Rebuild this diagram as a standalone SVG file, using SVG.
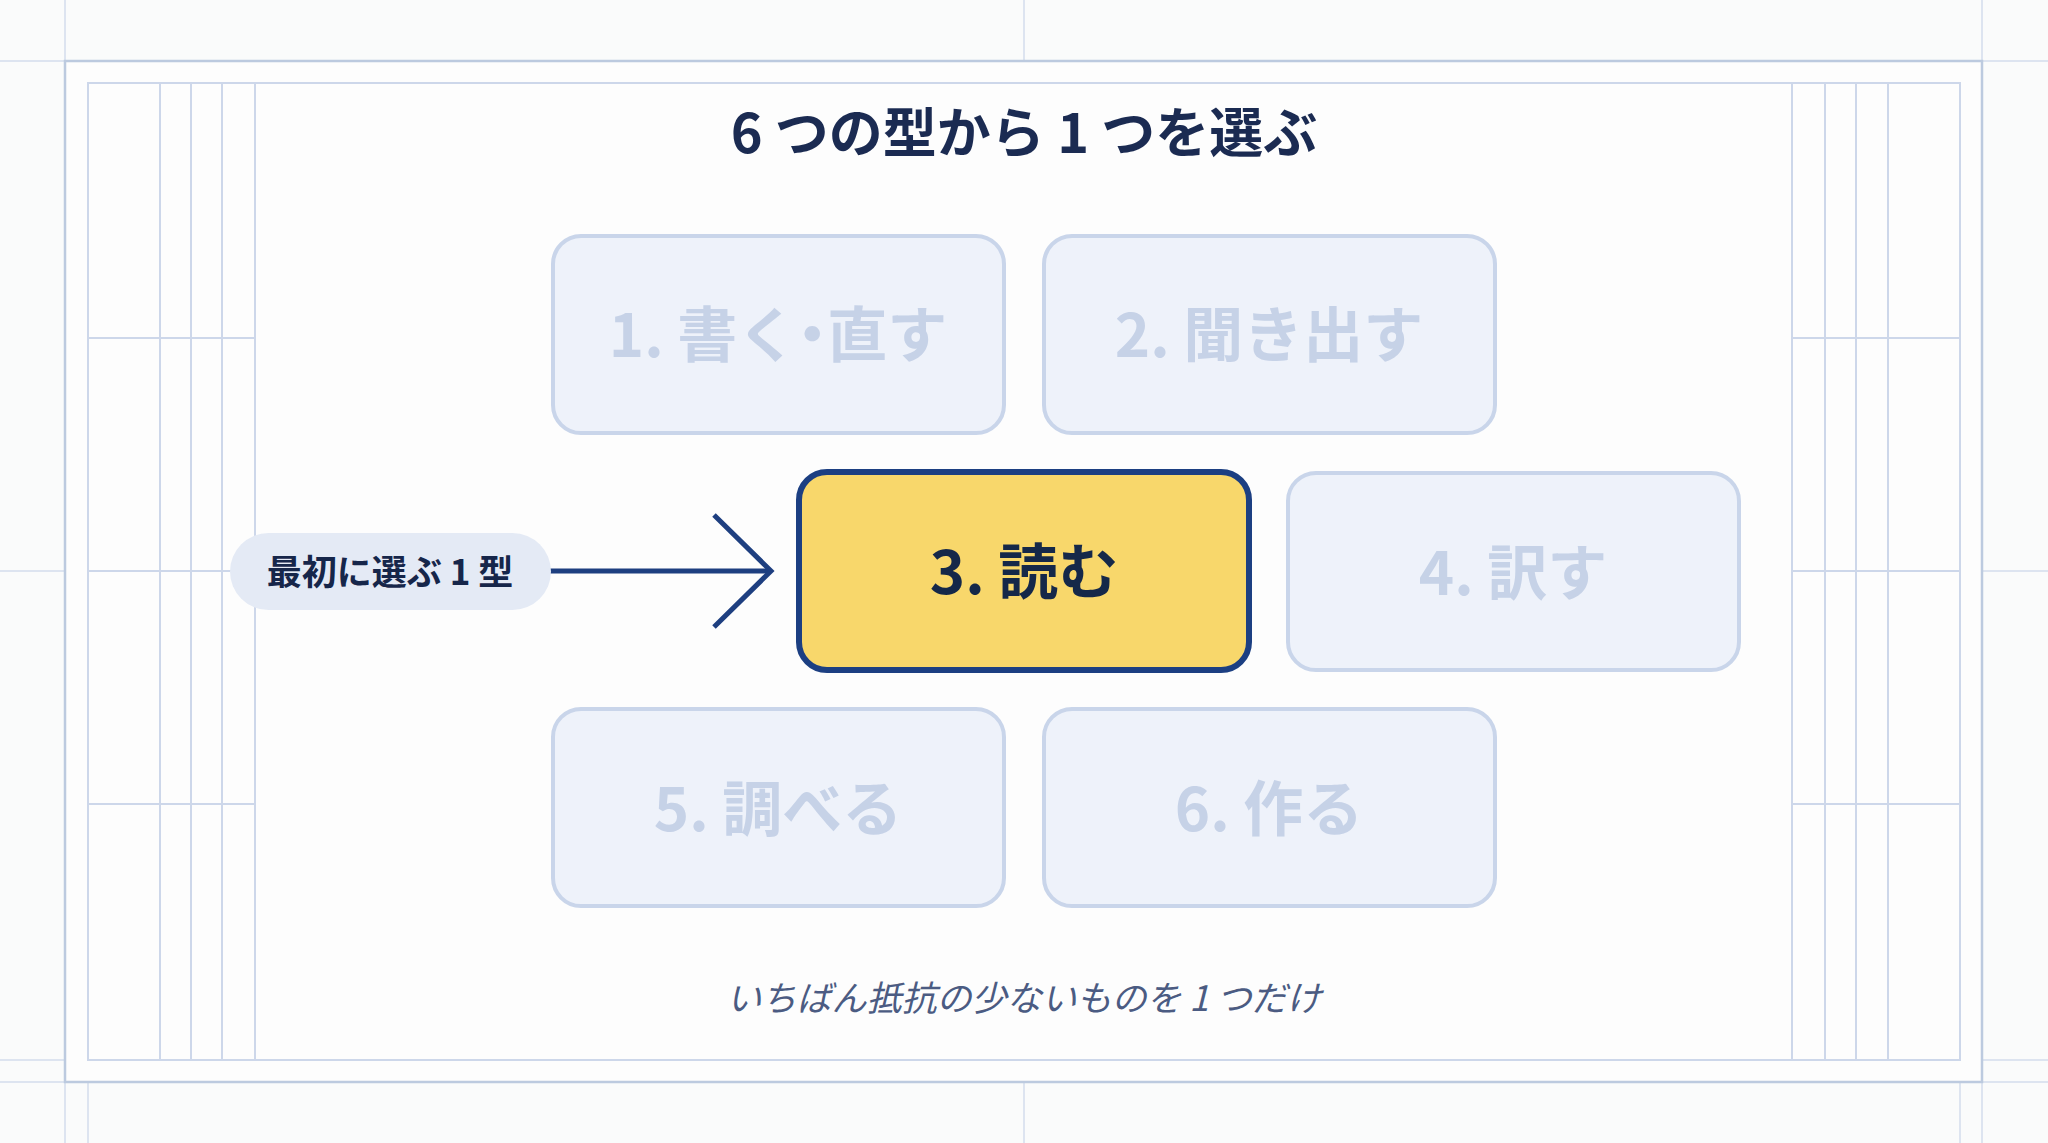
<svg xmlns="http://www.w3.org/2000/svg" width="2048" height="1143" viewBox="0 0 2048 1143">
<defs>
<style>
.g{stroke:#cdd7ea;stroke-width:2;fill:none}
.go{stroke:#dde4f0;stroke-width:2;fill:none}
.fr{stroke:#bccadf;stroke-width:2.5;fill:#fdfdfd}
.box{fill:#eef2fa;stroke:#c9d5ea;stroke-width:4}
.boxt{font-family:"Noto Sans CJK JP","Noto Sans",sans-serif;font-weight:700;font-size:60px;fill:#c6d2e7;text-anchor:middle}
.halt{font-feature-settings:"halt" 1}
.sel{fill:#f8d76b;stroke:#1c3f82;stroke-width:6}
.selt{font-family:"Noto Sans CJK JP","Noto Sans",sans-serif;font-weight:700;font-size:60px;fill:#152849;text-anchor:middle}
.conn{stroke:#1e3f80;stroke-width:5;fill:none;stroke-linecap:butt}
</style>
</defs>
<rect width="2048" height="1143" fill="#fafbfb"/>
<g id="grid">
<line class="go" x1="0" y1="61" x2="2048" y2="61"/>
<line class="go" x1="0" y1="1082" x2="2048" y2="1082"/>
<line class="go" x1="65" y1="0" x2="65" y2="1143"/>
<line class="go" x1="1982" y1="0" x2="1982" y2="1143"/>
<line class="go" x1="1024" y1="0" x2="1024" y2="61"/>
<line class="go" x1="1024" y1="1082" x2="1024" y2="1143"/>
<line class="go" x1="88" y1="1082" x2="88" y2="1143"/>
<line class="go" x1="1960" y1="1082" x2="1960" y2="1143"/>
<line class="go" x1="0" y1="571" x2="65" y2="571"/>
<line class="go" x1="1982" y1="571" x2="2048" y2="571"/>
<line class="go" x1="0" y1="1060" x2="65" y2="1060"/>
<line class="go" x1="1982" y1="1060" x2="2048" y2="1060"/>
<rect class="fr" x="65" y="61" width="1917" height="1021"/>
<rect class="g" x="88" y="83" width="1872" height="977"/>
<line class="g" x1="160" y1="83" x2="160" y2="1060"/>
<line class="g" x1="191" y1="83" x2="191" y2="1060"/>
<line class="g" x1="222" y1="83" x2="222" y2="1060"/>
<line class="g" x1="255" y1="83" x2="255" y2="1060"/>
<line class="g" x1="1792" y1="83" x2="1792" y2="1060"/>
<line class="g" x1="1825" y1="83" x2="1825" y2="1060"/>
<line class="g" x1="1856" y1="83" x2="1856" y2="1060"/>
<line class="g" x1="1888" y1="83" x2="1888" y2="1060"/>
<line class="g" x1="88" y1="338" x2="255" y2="338"/>
<line class="g" x1="88" y1="571" x2="255" y2="571"/>
<line class="g" x1="88" y1="804" x2="255" y2="804"/>
<line class="g" x1="1792" y1="338" x2="1960" y2="338"/>
<line class="g" x1="1792" y1="571" x2="1960" y2="571"/>
<line class="g" x1="1792" y1="804" x2="1960" y2="804"/>
</g>
<g id="title">
<text x="1024" y="153" font-family="'Noto Sans CJK JP','Noto Sans',sans-serif" font-weight="700" font-size="54" fill="#1b2b52" text-anchor="middle">6 つの型から 1 つを選ぶ</text>
</g>
<g id="connectors">
<line class="conn" x1="550" y1="571" x2="770" y2="571"/>
<polyline class="conn" points="714,515 771,571 714,627"/>
</g>
<g id="label">
<rect x="230" y="533" width="321" height="77" rx="38.5" fill="#e4eaf5"/>
<text x="390" y="585" font-family="'Noto Sans CJK JP','Noto Sans',sans-serif" font-weight="700" font-size="35" fill="#16264a" text-anchor="middle">最初に選ぶ 1 型</text>
</g>
<g id="node1">
<rect class="box" x="553" y="236" width="451" height="197" rx="28"/>
<text class="boxt halt" x="778" y="357">1. 書く・直す</text>
</g>
<g id="node2">
<rect class="box" x="1044" y="236" width="451" height="197" rx="28"/>
<text class="boxt" x="1269" y="357">2. 聞き出す</text>
</g>
<g id="node3">
<rect class="sel" x="799" y="472" width="450" height="198" rx="28"/>
<text class="selt" x="1024" y="594">3. 読む</text>
</g>
<g id="node4">
<rect class="box" x="1288" y="473" width="451" height="197" rx="28"/>
<text class="boxt" x="1513" y="595">4. 訳す</text>
</g>
<g id="node5">
<rect class="box" x="553" y="709" width="451" height="197" rx="28"/>
<text class="boxt" x="778" y="831">5. 調べる</text>
</g>
<g id="node6">
<rect class="box" x="1044" y="709" width="451" height="197" rx="28"/>
<text class="boxt" x="1269" y="831">6. 作る</text>
</g>
<g id="subtitle">
<text x="1024" y="1011" font-family="'Noto Sans CJK JP','Noto Sans',sans-serif" font-style="italic" font-size="35" fill="#4b5b82" text-anchor="middle">いちばん抵抗の少ないものを 1 つだけ</text>
</g>
</svg>
